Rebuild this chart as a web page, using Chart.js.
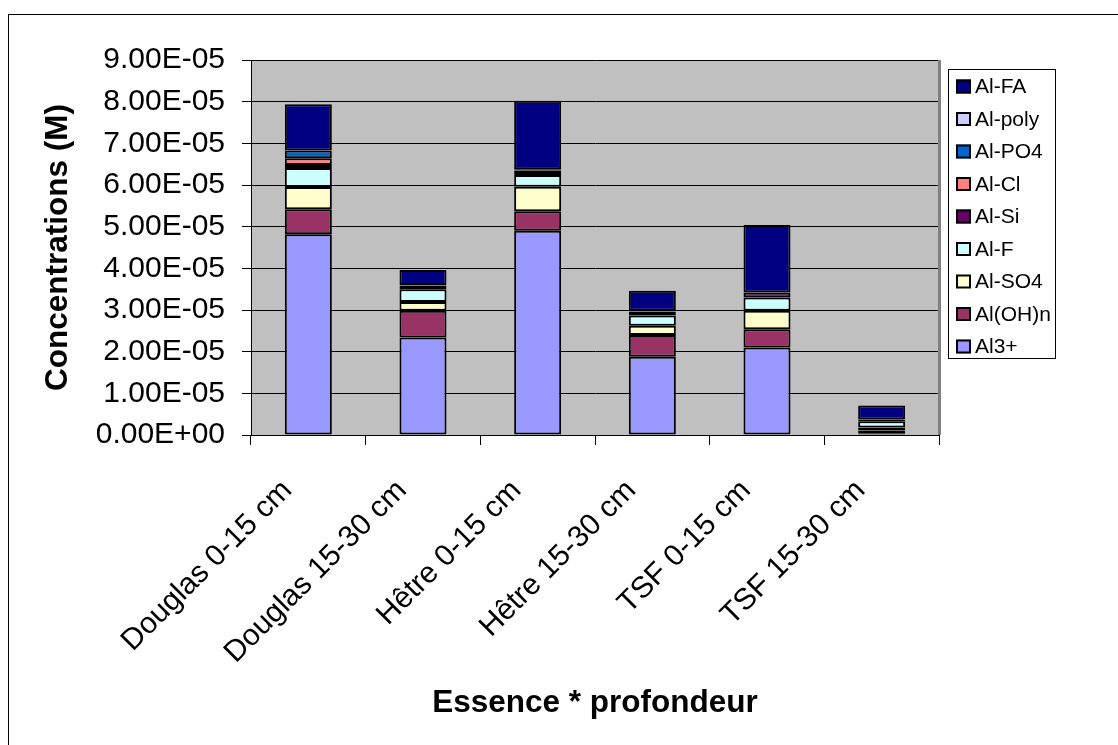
<!DOCTYPE html>
<html>
<head>
<meta charset="utf-8">
<script src="https://cdn.jsdelivr.net/npm/chart.js@4/dist/chart.umd.min.js"></script>
<style>
  html, body { margin: 0; padding: 0; background: #fff; }
  #wrap { width: 1118px; height: 745px; position: relative; }
</style>
</head>
<body>
<div id="wrap"><canvas id="c" width="1118" height="745"></canvas></div>
<script>
// Categories
const categories = ["Douglas 0-15 cm", "Douglas 15-30 cm", "Hêtre 0-15 cm", "Hêtre 15-30 cm", "TSF 0-15 cm", "TSF 15-30 cm"];

// Series values (M), stacked bottom to top
const al3   = [4.82e-5, 2.34e-5, 4.90e-5, 1.88e-5, 2.10e-5, 0.04e-5];
const alOHn = [0.60e-5, 0.64e-5, 0.47e-5, 0.52e-5, 0.44e-5, 0.07e-5];
const alSO4 = [0.53e-5, 0.21e-5, 0.59e-5, 0.22e-5, 0.44e-5, 0.07e-5];
const alF   = [0.46e-5, 0.31e-5, 0.28e-5, 0.25e-5, 0.32e-5, 0.15e-5];
const alSi  = [0.07e-5, 0.08e-5, 0.07e-5, 0.09e-5, 0.12e-5, 0.04e-5];
const alCl  = [0.16e-5, 0.01e-5, 0.04e-5, 0.01e-5, 0.00e-5, 0.00e-5];
const alPO4 = [0.19e-5, 0.01e-5, 0.03e-5, 0.01e-5, 0.00e-5, 0.00e-5];
const alPoly= [0, 0, 0, 0, 0, 0];
const alFA  = [1.11e-5, 0.36e-5, 1.64e-5, 0.48e-5, 1.62e-5, 0.34e-5];

const seriesNames = ["Al3+", "Al(OH)n", "Al-SO4", "Al-F", "Al-Si", "Al-Cl", "Al-PO4", "Al-poly", "Al-FA"];
const seriesValues = [al3, alOHn, alSO4, alF, alSi, alCl, alPO4, alPoly, alFA];
const seriesColors = ["#9999FF", "#993366", "#FFFFCC", "#CCFFFF", "#660066", "#FF8080", "#0066CC", "#CCCCFF", "#000080"];

// Y axis ticks
const yMin = 0, yMax = 9e-5, yStep = 1e-5;
const yTitle = "Concentrations (M)";
const xTitle = "Essence * profondeur";

function fmtExp(v) {
  const s = Number(v).toExponential(2).split('e');
  const sign = s[1][0] === '-' ? '-' : '+';
  const d = s[1].replace(/^[+-]/, '').padStart(2, '0');
  return s[0] + 'E' + sign + d;
}

const FONT = "'Liberation Sans', Arial, sans-serif";
const PLOT_LEFT = 251, PLOT_RIGHT = 939, PLOT_TOP = 60, PLOT_BOTTOM = 435;
const PAD_L = 39, PAD_B = 23;

const bgPlugin = {
  id: 'bg',
  beforeDraw(chart) {
    const ctx = chart.ctx, a = chart.chartArea;
    ctx.save();
    ctx.fillStyle = '#fff';
    ctx.fillRect(0, 0, chart.width, chart.height);
    ctx.strokeStyle = '#000';
    ctx.lineWidth = 1;
    ctx.strokeRect(8.5, 14.5, chart.width + 20, chart.height + 20);
    ctx.fillStyle = '#C0C0C0';
    ctx.fillRect(a.left, a.top, a.right - a.left, a.bottom - a.top);
    ctx.restore();
  },
  afterDraw(chart) {
    const ctx = chart.ctx, a = chart.chartArea;
    ctx.save();
    ctx.strokeStyle = '#808080';
    ctx.lineWidth = 3;
    ctx.beginPath();
    ctx.moveTo(a.right + 0.5, a.top);
    ctx.lineTo(a.right + 0.5, a.bottom);
    ctx.stroke();
    // legend
    const lx = 948.5, ly = 69.5, lw = 107, lh = 289;
    ctx.fillStyle = '#fff';
    ctx.fillRect(lx, ly, lw, lh);
    ctx.strokeStyle = '#000';
    ctx.lineWidth = 1;
    ctx.strokeRect(lx, ly, lw, lh);
    ctx.font = "21px " + FONT;
    ctx.textBaseline = 'middle';
    ctx.textAlign = 'left';
    const ds = chart.data.datasets;
    for (let i = 0; i < ds.length; i++) {
      const d = ds[ds.length - 1 - i];
      const cy = 86.5 + i * 32.5;
      ctx.fillStyle = d.backgroundColor;
      ctx.fillRect(956, cy - 7, 15, 14);
      ctx.strokeStyle = '#000';
      ctx.lineWidth = 2;
      ctx.strokeRect(957, cy - 6, 13, 12);
      ctx.fillStyle = '#000';
      ctx.fillText(d.label, 975, cy + 1);
    }
    ctx.restore();
  }
};

const datasets = seriesNames.map((n, i) => ({
  label: n,
  data: seriesValues[i],
  backgroundColor: seriesColors[i],
  borderColor: '#000',
  borderWidth: 2,
  borderSkipped: false,
  barPercentage: 0.41,
  categoryPercentage: 1.0
}));

new Chart(document.getElementById('c'), {
  type: 'bar',
  data: { labels: categories, datasets },
  options: {
    responsive: false,
    animation: false,
    devicePixelRatio: 1,
    layout: { padding: { left: PAD_L, top: PLOT_TOP, right: 1118 - PLOT_RIGHT, bottom: PAD_B } },
    plugins: { legend: { display: false }, tooltip: { enabled: false } },
    scales: {
      x: {
        stacked: true,
        afterFit(s) { s.height = 745 - PAD_B - PLOT_BOTTOM; },
        grid: { display: true, drawOnChartArea: false, offset: true, tickLength: 10, color: '#000', lineWidth: 1 },
        border: { display: true, color: '#000', width: 1 },
        ticks: {
          color: '#000', font: { family: FONT, size: 30 },
          minRotation: 45, maxRotation: 45, autoSkip: false,
          padding: 28, labelOffset: -21
        },
        title: { display: true, text: xTitle, color: '#000', font: { family: FONT, size: 31.5, weight: 'bold' }, padding: 0 }
      },
      y: {
        stacked: true,
        min: yMin, max: yMax,
        afterFit(s) { s.width = PLOT_LEFT - PAD_L; },
        grid: { color: '#000', lineWidth: 1, tickLength: 9 },
        border: { display: true, color: '#000', width: 1 },
        ticks: {
          stepSize: yStep, color: '#000', font: { family: FONT, size: 30 }, padding: 17,
          callback: (v) => fmtExp(v)
        },
        title: { display: true, text: yTitle, color: '#000', font: { family: FONT, size: 31.5, weight: 'bold' }, padding: 0 }
      }
    }
  },
  plugins: [bgPlugin]
});
</script>
</body>
</html>
